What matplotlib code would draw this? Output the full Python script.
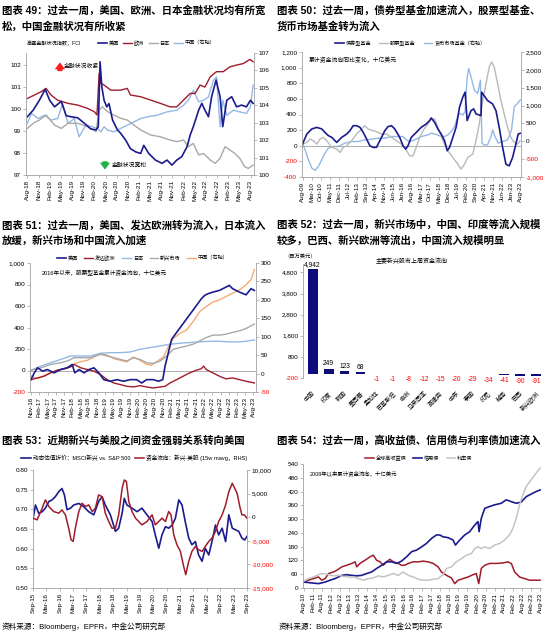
import matplotlib
matplotlib.use('Agg')
import matplotlib.pyplot as plt

plt.rcParams['font.family'] = ['Liberation Sans', 'Noto Sans CJK SC']
plt.rcParams['axes.unicode_minus'] = False

NAVY = '#1b1b8e'
RED = '#a01c2c'
GREY = '#a9a9a9'
LBLUE = '#94b8e6'
ORANGE = '#f6ab72'

# ---------------- 图表49: 高盛金融状况指数 ----------------
us49_t = [2018.58, 2018.71, 2018.85, 2018.98, 2019.08, 2019.19, 2019.34, 2019.45, 2019.56, 2019.71,
          2019.86, 2020.00, 2020.12, 2020.17, 2020.21, 2020.25, 2020.30, 2020.36, 2020.41, 2020.49,
          2020.60, 2020.67, 2020.78, 2020.89, 2021.01, 2021.12, 2021.19, 2021.30, 2021.45, 2021.60,
          2021.71, 2021.82, 2021.93, 2022.04, 2022.16, 2022.23, 2022.30, 2022.42, 2022.49, 2022.56,
          2022.64, 2022.71, 2022.81, 2022.90, 2022.96, 2023.05, 2023.16, 2023.27, 2023.38, 2023.49,
          2023.58, 2023.64]
us49_v = [99.65, 99.95, 100.4, 100.9, 100.4, 100.1, 100.35, 99.7, 99.65, 99.6,
          99.35, 99.1, 99.05, 99.2, 102.15, 101.0, 100.4, 100.1, 100.25, 99.5,
          99.05, 98.9, 98.6, 98.2, 98.05, 97.98, 98.35, 97.98, 97.68, 97.53,
          97.68, 97.45, 97.68, 97.83, 98.29, 98.82, 99.2, 99.95, 100.26, 99.95,
          99.65, 100.56, 101.32, 100.56, 99.2, 100.4, 100.56, 100.1, 100.18, 100.1,
          100.4, 100.26]
eu49_t = [2018.58, 2018.74, 2018.89, 2019.00, 2019.11, 2019.26, 2019.49, 2019.71, 2019.93, 2020.08,
          2020.14, 2020.19, 2020.23, 2020.30, 2020.45, 2020.67, 2020.82, 2020.89, 2021.12, 2021.34,
          2021.56, 2021.78, 2021.93, 2022.08, 2022.23, 2022.34, 2022.45, 2022.56, 2022.68, 2022.82,
          2022.97, 2023.12, 2023.27, 2023.42, 2023.57, 2023.64]
eu49_v = [100.48, 100.64, 100.79, 100.94, 100.64, 100.4, 100.26, 100.18, 100.03, 99.88,
          99.73, 101.62, 101.17, 101.09, 100.86, 100.86, 100.94, 100.64, 100.56, 100.41,
          100.26, 100.1, 100.1, 100.41, 100.71, 100.71, 101.09, 101.0, 101.47, 101.7,
          101.7, 101.92, 102.0, 102.07, 102.26, 102.15]
jp49_t = [2018.58, 2018.71, 2018.85, 2019.00, 2019.19, 2019.34, 2019.49, 2019.71, 2019.93, 2020.12,
          2020.19, 2020.26, 2020.38, 2020.52, 2020.67, 2020.82, 2020.97, 2021.12, 2021.34, 2021.56,
          2021.78, 2021.93, 2022.08, 2022.19, 2022.30, 2022.42, 2022.53, 2022.68, 2022.79, 2022.90,
          2023.01, 2023.12, 2023.23, 2023.34, 2023.45, 2023.53, 2023.64]
jp49_v = [99.12, 99.35, 99.5, 99.73, 99.27, 99.12, 99.35, 99.35, 99.2, 98.97,
          99.95, 100.1, 99.88, 99.73, 99.58, 99.5, 99.27, 99.05, 98.82, 98.74,
          98.59, 98.52, 98.59, 98.29, 98.44, 97.91, 97.98, 97.68, 97.53, 97.76,
          98.29, 98.14, 97.98, 97.76, 97.38, 97.3, 97.45]
cn49_t = [2018.58, 2018.67, 2018.82, 2018.97, 2019.11, 2019.26, 2019.37, 2019.49, 2019.63, 2019.74,
          2019.89, 2020.04, 2020.15, 2020.23, 2020.30, 2020.38, 2020.52, 2020.67, 2020.82, 2020.97,
          2021.12, 2021.27, 2021.49, 2021.71, 2021.93, 2022.08, 2022.19, 2022.30, 2022.42, 2022.53,
          2022.64, 2022.75, 2022.82, 2022.90, 2022.96, 2023.05, 2023.20, 2023.34, 2023.49, 2023.58,
          2023.64]
cn49_v = [102.96, 103.53, 103.24, 103.43, 103.15, 103.24, 104.1, 102.96, 103.24, 102.19,
          102.86, 102.77, 102.67, 102.48, 102.77, 102.57, 102.48, 102.67, 102.86, 103.05,
          103.24, 103.34, 103.43, 103.62, 103.72, 104.0, 104.29, 104.86, 104.2, 104.29,
          104.48, 105.44, 105.63, 102.77, 104.29, 103.43, 103.72, 103.62, 103.53, 103.91,
          105.15]

# ---------------- 图表50: 累计资金流向同比变化 ----------------
bond50_t = [2009.58, 2009.86, 2010.18, 2010.50, 2010.82, 2011.03, 2011.24, 2011.46, 2011.78, 2012.10,
            2012.42, 2012.63, 2012.84, 2013.06, 2013.27, 2013.48, 2013.70, 2013.91, 2014.12, 2014.33,
            2014.55, 2014.87, 2015.08, 2015.30, 2015.51, 2015.83, 2016.04, 2016.21, 2016.36, 2016.57,
            2016.79, 2017.00, 2017.21, 2017.53, 2017.75, 2017.85, 2018.07, 2018.28, 2018.49, 2018.71,
            2018.88, 2019.03, 2019.24, 2019.45, 2019.67, 2019.88, 2020.03, 2020.16, 2020.41, 2020.58,
            2020.73, 2021.05, 2021.09, 2021.47, 2021.79, 2022.01, 2022.22, 2022.44, 2022.65, 2022.86,
            2023.08, 2023.29, 2023.44, 2023.57]
bond50_v = [20, 150, 215, 235, 215, 170, 130, 107, 43, 107,
            150, 193, 257, 257, 236, 172, 86, 0, -21, -21,
            64, 193, 245, 257, 215, 107, 0, -43, 0, 107,
            150, 193, 236, 279, 322, 356, 300, 215, 150, 64,
            -64, -21, 107, 236, 493, 622, 686, 322, 450, 472,
            407, 386, 686, 579, 536, 450, 236, -21, -236, -257,
            -150, 21, 150, 159]
eq50_t = [2009.58, 2009.86, 2010.07, 2010.28, 2010.50, 2010.71, 2010.92, 2011.14, 2011.46, 2011.78,
          2011.99, 2012.20, 2012.42, 2012.74, 2013.06, 2013.38, 2013.59, 2013.80, 2014.12, 2014.44,
          2014.66, 2014.98, 2015.30, 2015.62, 2015.94, 2016.21, 2016.47, 2016.68, 2016.89, 2017.11,
          2017.32, 2017.64, 2017.85, 2018.07, 2018.28, 2018.60, 2018.92, 2019.24, 2019.56, 2019.77,
          2019.99, 2020.20, 2020.52, 2020.73, 2020.94, 2021.16, 2021.37, 2021.58, 2021.73, 2021.90,
          2022.12, 2022.33, 2022.54, 2022.76, 2022.97, 2023.19, 2023.40, 2023.57]
eq50_v = [20, 43, 86, 64, 21, 86, 107, 64, -21, -43,
          -86, -21, 0, 64, 150, 214, 257, 214, 193, 172,
          150, 150, 107, 64, 21, -43, -129, -129, -21, 107,
          193, 279, 343, 343, 236, 64, -64, -150, -236, -300,
          -236, -150, -107, 64, 279, 579, 793, 1007, 1072, 1007,
          793, 579, 407, 236, 107, 43, 21, 64]
mm50_t = [2009.58, 2009.75, 2009.96, 2010.18, 2010.39, 2010.60, 2010.82, 2011.03, 2011.24, 2011.56,
          2011.88, 2012.31, 2012.74, 2013.16, 2013.59, 2014.02, 2014.44, 2014.87, 2015.30, 2015.72,
          2016.04, 2016.25, 2016.47, 2016.79, 2017.21, 2017.64, 2017.85, 2018.07, 2018.39, 2018.71,
          2018.92, 2019.13, 2019.35, 2019.56, 2019.67, 2019.88, 2020.03, 2020.16, 2020.26, 2020.41,
          2020.62, 2020.84, 2021.01, 2021.12, 2021.22, 2021.47, 2021.69, 2021.80, 2021.95, 2022.16,
          2022.44, 2022.76, 2023.01, 2023.19, 2023.40, 2023.57]
mm50_v = [-53, -239, -517, -749, -814, -703, -517, -332, -192, -146,
          -146, -53, -7, -7, 40, 58, 86, 86, 133, 133,
          133, 40, -7, 40, 133, 179, 225, 207, 151, 133,
          179, 272, 411, 690, 783, 736, 829, 1804, 2036, 1804,
          1432, 1340, 1711, -46, -100, -100, 133, 318, 133, -53,
          -7, 40, 318, 968, 1061, 1154]

# ---------------- 图表51: 股票型基金累计资金流向 ----------------
us51_t = [2016.83, 2016.93, 2017.03, 2017.18, 2017.33, 2017.53, 2017.73, 2017.93, 2018.08, 2018.16,
          2018.29, 2018.44, 2018.59, 2018.74, 2018.89, 2019.04, 2019.24, 2019.44, 2019.64, 2019.84,
          2020.04, 2020.19, 2020.34, 2020.54, 2020.70, 2020.83, 2020.90, 2021.00, 2021.10, 2021.25,
          2021.40, 2021.55, 2021.70, 2021.85, 2022.00, 2022.10, 2022.20, 2022.35, 2022.55, 2022.75,
          2022.85, 2022.95, 2023.16, 2023.36, 2023.51, 2023.61]
us51_v = [-85, -22, 25, -6, 9, -22, 9, 25, 56, -22,
          9, -22, 9, 25, -22, -85, -100, -85, -100, -85,
          -85, -116, -85, -85, -100, -85, 41, 166, 291, 354,
          416, 479, 541, 604, 667, 698, 714, 729, 745, 776,
          792, 761, 729, 704, 761, 745]
eu51_t = [2016.83, 2017.03, 2017.23, 2017.43, 2017.63, 2017.83, 2018.03, 2018.14, 2018.34, 2018.54,
          2018.74, 2018.94, 2019.14, 2019.34, 2019.54, 2019.74, 2019.94, 2020.14, 2020.34, 2020.54,
          2020.75, 2020.90, 2021.05, 2021.25, 2021.45, 2021.65, 2021.85, 2022.00, 2022.07, 2022.15,
          2022.35, 2022.55, 2022.75, 2022.95, 2023.16, 2023.36, 2023.61]
eu51_v = [-85, -69, -53, -22, 3, 16, 34, 56, 25, 9,
          -6, -38, -85, -116, -131, -147, -153, -141, -153, -163,
          -153, -147, -116, -85, -53, -22, 3, 16, 41, 9,
          -22, -53, -78, -69, -85, -100, -116]
jp51_t = [2016.83, 2017.13, 2017.43, 2017.73, 2018.03, 2018.34, 2018.64, 2018.94, 2019.24, 2019.54,
          2019.84, 2020.14, 2020.44, 2020.75, 2021.05, 2021.35, 2021.65, 2021.95, 2022.25, 2022.55,
          2022.85, 2023.16, 2023.36, 2023.61]
jp51_v = [3, 41, 72, 103, 135, 135, 135, 160, 166, 166,
          172, 197, 213, 228, 244, 254, 260, 266, 272, 272,
          266, 266, 272, 285]
em51_t = [2016.83, 2017.13, 2017.43, 2017.73, 2017.93, 2018.14, 2018.34, 2018.64, 2018.94, 2019.14,
          2019.34, 2019.54, 2019.74, 2019.94, 2020.14, 2020.34, 2020.54, 2020.75, 2020.95, 2021.15,
          2021.35, 2021.55, 2021.75, 2021.95, 2022.15, 2022.35, 2022.55, 2022.75, 2022.95, 2023.16,
          2023.36, 2023.61]
em51_v = [3, 25, 56, 72, 88, 119, 119, 119, 150, 135,
          119, 103, 88, 119, 103, 72, 66, 88, 135, 197,
          213, 228, 244, 275, 307, 329, 329, 338, 354, 369,
          391, 432]
cn51_t = [2016.83, 2017.03, 2017.23, 2017.43, 2017.63, 2017.83, 2018.03, 2018.14, 2018.34, 2018.54,
          2018.74, 2018.94, 2019.14, 2019.34, 2019.54, 2019.74, 2019.94, 2020.14, 2020.34, 2020.49,
          2020.64, 2020.85, 2021.00, 2021.15, 2021.35, 2021.55, 2021.75, 2021.95, 2022.15, 2022.35,
          2022.55, 2022.75, 2022.95, 2023.16, 2023.36, 2023.51, 2023.61]
cn51_v = [-6, -14, -5, 3, 9, 12, 18, 27, 32, 36,
          45, 55, 50, 41, 36, 32, 45, 36, 25, 23,
          32, 45, 73, 95, 109, 118, 141, 168, 182, 194,
          200, 209, 218, 227, 241, 255, 282]

# ---------------- 图表52: 主要新兴股市上周资金流向 ----------------
mkt52 = ['中国', '印度', '韩国', '墨西哥', '孟加拉', '巴基斯坦', '非洲', '马来西亚',
         '菲律宾', '中东', '泰国', '印尼', '越南', '巴西', '新兴欧洲']
flow52 = [4942, 249, 123, 68, -1, -1, -8, -12, -15, -20, -29, -34, -41, -90, -91]

# ---------------- 图表53: 估值折价 vs 资金流向 ----------------
val53_t = [2015.67, 2015.76, 2015.88, 2016.01, 2016.13, 2016.26, 2016.38, 2016.50, 2016.63, 2016.75,
           2016.84, 2016.94, 2017.07, 2017.19, 2017.38, 2017.56, 2017.75, 2017.94, 2018.12, 2018.25,
           2018.37, 2018.56, 2018.75, 2018.87, 2019.00, 2019.08, 2019.18, 2019.37, 2019.56, 2019.74,
           2019.93, 2020.12, 2020.24, 2020.37, 2020.49, 2020.62, 2020.74, 2020.87, 2020.99, 2021.12,
           2021.24, 2021.36, 2021.49, 2021.61, 2021.74, 2021.86, 2021.99, 2022.11, 2022.24, 2022.36,
           2022.49, 2022.61, 2022.74, 2022.87, 2022.99, 2023.12, 2023.24, 2023.36, 2023.48, 2023.58,
           2023.67]
val53_v = [0.677, 0.711, 0.690, 0.694, 0.703, 0.720, 0.724, 0.732, 0.745, 0.753,
           0.737, 0.699, 0.703, 0.711, 0.715, 0.707, 0.694, 0.686, 0.720, 0.732,
           0.711, 0.686, 0.644, 0.652, 0.690, 0.728, 0.711, 0.703, 0.694, 0.703,
           0.686, 0.669, 0.635, 0.601, 0.635, 0.656, 0.652, 0.660, 0.677, 0.724,
           0.711, 0.669, 0.627, 0.610, 0.618, 0.584, 0.568, 0.601, 0.584, 0.618,
           0.660, 0.635, 0.652, 0.618, 0.686, 0.652, 0.648, 0.644, 0.627, 0.622,
           0.631]
flow53_t = [2015.67, 2015.82, 2016.01, 2016.13, 2016.26, 2016.44, 2016.63, 2016.75, 2016.88, 2017.00,
            2017.09, 2017.17, 2017.25, 2017.38, 2017.50, 2017.63, 2017.75, 2017.88, 2018.00, 2018.12,
            2018.25, 2018.37, 2018.50, 2018.62, 2018.75, 2018.87, 2019.00, 2019.08, 2019.16, 2019.25,
            2019.37, 2019.50, 2019.62, 2019.74, 2019.93, 2020.12, 2020.24, 2020.37, 2020.49, 2020.62,
            2020.74, 2020.83, 2020.93, 2021.05, 2021.18, 2021.30, 2021.38, 2021.49, 2021.61, 2021.74,
            2021.86, 2021.99, 2022.11, 2022.24, 2022.36, 2022.49, 2022.61, 2022.74, 2022.87, 2022.99,
            2023.12, 2023.18, 2023.30, 2023.40, 2023.48, 2023.57, 2023.67]
flow53_v = [-208, -560, 1904, 3664, 2256, 1200, 848, 1552, 496, -2320,
            -4784, -5136, -2320, 1200, 2960, 2256, 2608, 1200, 1904, 4720,
            4368, 848, -912, -2320, -2320, 496, 6128, 7888, 7536, 3312,
            1200, -208, -912, -1616, -912, 496, -1616, -912, -208, -912,
            1200, 496, -3728, -5840, -7248, -10416, -12176, -9360, -7248, -6192,
            -6896, -7248, -6192, -5136, -4432, -3024, -912, 496, 2608, 5424,
            7184, 6480, 5072, 2256, 496, 496, -208]

# ---------------- 图表54: 债券基金累计资金流向 ----------------
hy54_t = [2010.58, 2010.85, 2011.13, 2011.40, 2011.58, 2011.77, 2011.95, 2012.22, 2012.40, 2012.68,
          2012.95, 2013.23, 2013.41, 2013.50, 2013.68, 2013.96, 2014.23, 2014.41, 2014.59, 2014.78,
          2014.96, 2015.14, 2015.32, 2015.51, 2015.78, 2015.96, 2016.15, 2016.33, 2016.60, 2016.88,
          2017.15, 2017.42, 2017.70, 2017.97, 2018.15, 2018.43, 2018.70, 2018.88, 2019.07, 2019.34,
          2019.61, 2019.89, 2020.07, 2020.20, 2020.34, 2020.53, 2020.80, 2021.16, 2021.53, 2021.80,
          2021.99, 2022.17, 2022.44, 2022.71, 2022.99, 2023.26, 2023.57]
hy54_v = [26, 34, 41, 48, 34, 41, 63, 70, 77, 92,
          99, 107, 114, 92, 107, 121, 136, 143, 121, 114,
          99, 114, 125, 114, 107, 99, 99, 107, 114, 114,
          117, 114, 107, 92, 70, 55, 44, 19, 34, 41,
          48, 58, 63, 19, 85, 99, 107, 107, 109, 114,
          107, 70, 48, 41, 34, 34, 34]
cr54_t = [2010.58, 2011.04, 2011.40, 2011.77, 2012.04, 2012.31, 2012.68, 2012.95, 2013.23, 2013.50,
          2013.77, 2014.05, 2014.32, 2014.59, 2014.87, 2015.14, 2015.42, 2015.69, 2015.96, 2016.24,
          2016.51, 2016.78, 2017.06, 2017.33, 2017.61, 2017.88, 2018.06, 2018.24, 2018.52, 2018.79,
          2018.92, 2019.16, 2019.43, 2019.70, 2019.98, 2020.16, 2020.22, 2020.34, 2020.53, 2020.80,
          2021.07, 2021.44, 2021.71, 2021.99, 2022.26, 2022.53, 2022.81, 2023.08, 2023.35, 2023.57]
cr54_v = [26, 22, 19, 26, 34, 41, 55, 58, 55, 53,
          55, 63, 70, 85, 99, 114, 114, 107, 117, 136,
          158, 165, 179, 194, 216, 231, 231, 223, 219, 209,
          187, 209, 231, 245, 274, 289, 245, 303, 347, 355,
          362, 369, 384, 376, 369, 374, 398, 409, 420, 427]
gov54_t = [2010.58, 2010.85, 2011.13, 2011.40, 2011.67, 2011.95, 2012.22, 2012.50, 2012.77, 2013.04,
           2013.32, 2013.59, 2013.86, 2014.14, 2014.41, 2014.69, 2014.96, 2015.23, 2015.51, 2015.78,
           2016.05, 2016.33, 2016.60, 2016.88, 2017.15, 2017.42, 2017.70, 2017.97, 2018.24, 2018.43,
           2018.70, 2018.97, 2019.25, 2019.52, 2019.80, 2019.98, 2020.16, 2020.34, 2020.53, 2020.80,
           2021.07, 2021.35, 2021.62, 2021.89, 2022.08, 2022.26, 2022.44, 2022.62, 2022.81, 2023.08,
           2023.35, 2023.57]
gov54_v = [29, 41, 48, 58, 63, 58, 53, 55, 51, 48,
           48, 41, 34, 41, 44, 53, 48, 55, 63, 55,
           70, 55, 48, 38, 34, 34, 38, 41, 58, 85,
           92, 114, 128, 143, 150, 172, 179, 172, 179, 172,
           187, 194, 209, 231, 260, 303, 362, 406, 442, 471,
           500, 522]

MONTHS = ['Jan', 'Feb', 'Mar', 'Apr', 'May', 'Jun', 'Jul', 'Aug', 'Sep', 'Oct', 'Nov', 'Dec']

fig = plt.figure(figsize=(5.5, 6.35), dpi=100)


def fx(px):
    return px / 550


def fy(px):
    return 1 - px / 635


def axes_at(l, r, t, b):
    return fig.add_axes([fx(l), fy(b), fx(r) - fx(l), fy(t) - fy(b)])


def style(ax):
    ax.spines['top'].set_visible(False)
    for s in ax.spines.values():
        s.set_color('#a0a0a0')
        s.set_linewidth(0.6)
    ax.tick_params(labelsize=4.6, length=2, width=0.5, color='#a0a0a0', pad=1.5)


def twin(ax):
    ax2 = ax.twinx()
    style(ax2)
    ax2.spines['left'].set_visible(False)
    ax2.spines['bottom'].set_visible(False)
    ax.spines['right'].set_visible(False)
    return ax2


def date_ticks(ax, y0, m0, step, n):
    pos, lab = [], []
    for k in range(n):
        m = (m0 - 1) + k * step
        yr = y0 + m // 12
        mm = m % 12
        pos.append(yr + mm / 12)
        lab.append(f"{MONTHS[mm]}-{yr % 100:02d}")
    ax.set_xticks(pos)
    ax.set_xticklabels(lab, rotation=90, fontsize=4.5)


def yticks(ax, ticks, fmt):
    ax.set_yticks(ticks)
    ax.set_yticklabels([fmt(t) for t in ticks])
    for lab, t in zip(ax.get_yticklabels(), ticks):
        if t < 0:
            lab.set_color('red')


def title(x, y, s):
    fig.text(fx(x), fy(y), s, fontsize=7.5, weight='bold', va='center', ha='left')


def legend(ax, handles, labels, x, y, size=3.7, spacing=0.9):
    ax.legend(handles, labels, loc='center left', bbox_to_anchor=(fx(x), fy(y)),
              bbox_transform=fig.transFigure, ncol=len(labels), frameon=False,
              fontsize=size, handlelength=1.7, handletextpad=0.35, columnspacing=spacing,
              borderaxespad=0, borderpad=0)


def block_arrow(ax, x, y_from, y_to, color):
    ax.annotate('', xy=(x, y_to), xytext=(x, y_from),
                arrowprops=dict(arrowstyle='simple,head_length=0.5,head_width=0.75,tail_width=0.38',
                                fc=color, ec='none', mutation_scale=10))


comma = lambda t: f"{t:,}"

# ---------- 49 ----------
title(2, 10, '图表 49：过去一周，美国、欧洲、日本金融状况均有所宽')
title(2, 27, '松，中国金融状况有所收紧')
ax = axes_at(26, 254, 53, 175)
style(ax)
ax2 = twin(ax)
ax2.plot(cn49_t, cn49_v, color=LBLUE, lw=1.0)
l1, = ax.plot(jp49_t, jp49_v, color=GREY, lw=1.0)
l2, = ax.plot(eu49_t, eu49_v, color=RED, lw=1.0)
l3, = ax.plot(us49_t, us49_v, color=NAVY, lw=1.2)
ax.set_zorder(ax2.get_zorder() + 1)
ax.patch.set_visible(False)
ax.set_xlim(2018.55, 2023.66)
ax.set_ylim(97, 102.55)
ax2.set_ylim(100, 107)
yticks(ax, [97, 98, 99, 100, 101, 102], str)
yticks(ax2, [100, 101, 102, 103, 104, 105, 106, 107], str)
date_ticks(ax, 2018, 8, 3, 21)
fig.text(fx(27), fy(43), '高盛金融状况指数，FCI', fontsize=3.7, va='center')
legend(ax, [l3, l2, l1, plt.Line2D([], [], color=LBLUE, lw=1.0)],
       ['美国', '欧洲', '日本', '中国（右轴）'], 98, 43)
block_arrow(ax, 2019.31, 101.6, 102.25, '#ff1a1a')
ax.text(2019.4, 101.95, '金融状况收紧', fontsize=4.2, va='center')
block_arrow(ax, 2020.32, 97.75, 97.12, '#22b04a')
ax.text(2020.47, 97.47, '金融状况宽松', fontsize=4.2, va='center')

# ---------- 50 ----------
title(277, 10, '图表 50：过去一周，债券型基金加速流入，股票型基金、')
title(277, 27, '货币市场基金转为流入')
ax = axes_at(302, 521, 52, 177)
style(ax)
ax2 = twin(ax)
m1, = ax2.plot(mm50_t, mm50_v, color=LBLUE, lw=1.0)
ax.axhline(0, color='#a0a0a0', lw=0.6)
e1, = ax.plot(eq50_t, eq50_v, color='#b9b9b9', lw=1.0)
b1, = ax.plot(bond50_t, bond50_v, color=NAVY, lw=1.2)
ax.set_zorder(ax2.get_zorder() + 1)
ax.patch.set_visible(False)
ax.set_xlim(2009.55, 2023.62)
ax.set_ylim(-400, 1200)
ax2.set_ylim(-1000, 2500)
yticks(ax, list(range(-400, 1201, 200)), comma)
yticks(ax2, list(range(-1000, 2501, 500)), comma)
date_ticks(ax, 2009, 8, 7, 25)
ax.text(0.03, 0.96, '累计资金流向同比变化，十亿美元', transform=ax.transAxes, fontsize=4.2, va='top')
legend(ax, [b1, e1, m1], ['债券型基金', '股票型基金', '货币市场基金（右轴）'], 335, 43, spacing=1.6)

# ---------- 51 ----------
title(2, 225, '图表 51：过去一周，美国、发达欧洲转为流入，日本流入')
title(2, 241, '放缓，新兴市场和中国流入加速')
ax = axes_at(30, 256, 263, 392)
style(ax)
ax2 = twin(ax)
c1, = ax2.plot(cn51_t, cn51_v, color=ORANGE, lw=1.0)
ax.axhline(0, color='#a0a0a0', lw=0.6)
j1, = ax.plot(jp51_t, jp51_v, color=LBLUE, lw=1.0)
g1, = ax.plot(em51_t, em51_v, color=GREY, lw=1.0)
r1, = ax.plot(eu51_t, eu51_v, color=RED, lw=1.0)
u1, = ax.plot(us51_t, us51_v, color=NAVY, lw=1.2)
ax.set_zorder(ax2.get_zorder() + 1)
ax.patch.set_visible(False)
ax.set_xlim(2016.8, 2023.66)
ax.set_ylim(-200, 1000)
ax2.set_ylim(-50, 300)
yticks(ax, list(range(-200, 1001, 200)), comma)
yticks(ax2, list(range(-50, 301, 50)), comma)
date_ticks(ax, 2016, 11, 3, 28)
ax.text(0.05, 0.95, '2016年以来，股票型基金累计资金流向，十亿美元', transform=ax.transAxes,
        fontsize=4.1, va='top')
legend(ax, [u1, r1, j1, g1, c1], ['美国', '发达欧洲', '日本', '新兴市场', '中国（右轴）'], 57, 258,
       spacing=1.3)

# ---------- 52 ----------
title(277, 225, '图表 52：过去一周，新兴市场中，中国、印度等流入规模')
title(277, 241, '较多，巴西、新兴欧洲等流出，中国流入规模明显')
ax = axes_at(303, 545, 264, 378)
style(ax)
ax.spines['right'].set_visible(False)
ax.spines['bottom'].set_visible(False)
xs = list(range(len(mkt52)))
ax.bar(xs, flow52, width=0.62, color='#0c0c7a')
for x, v in zip(xs, flow52):
    if v >= 0:
        ax.annotate(f"{v:,}", (x, v), xytext=(0, 1), textcoords='offset points',
                    ha='center', va='bottom', fontsize=4.8)
    else:
        ax.annotate(f"{v:,}", (x, v), xytext=(0, -1.5), textcoords='offset points',
                    ha='center', va='top', fontsize=4.8, color='red')
ax.set_xlim(-0.6, len(mkt52) - 0.45)
ax.set_ylim(-200, 5200)
yticks(ax, [-200, 800, 1800, 2800, 3800, 4800], comma)
ax.set_xticks(xs)
ax.set_xticklabels(mkt52, rotation=45, ha='right', rotation_mode='anchor', fontsize=4.3)
ax.tick_params(axis='x', length=0, pad=9)
fig.text(fx(284), fy(257), '（百万美元）', fontsize=3.8, va='center')
fig.text(fx(412), fy(261), '主要新兴股市上周资金流向', fontsize=4.3, va='center', ha='center')

# ---------- 53 ----------
title(2, 440, '图表 53：近期新兴与美股之间资金强弱关系转向美国')
ax = axes_at(33, 247, 470, 588)
style(ax)
ax2 = twin(ax)
n1, = ax.plot(val53_t, val53_v, color=NAVY, lw=1.2)
f1, = ax2.plot(flow53_t, flow53_v, color=RED, lw=1.1)
ax.set_xlim(2015.67, 2023.67)
ax.set_ylim(0.5, 0.8)
ax2.set_ylim(-15000, 10000)
yticks(ax, [0.5, 0.55, 0.6, 0.65, 0.7, 0.75, 0.8], lambda t: f"{t:.2f}")
yticks(ax2, list(range(-15000, 10001, 5000)), comma)
date_ticks(ax, 2015, 9, 6, 17)
legend(ax, [n1, f1], ['动态估值折价：MSCI新兴 vs. S&P 500', '资金流向：新兴-美股 (15w mavg，RHS)'],
       21, 458, size=4.1, spacing=0.8)

# ---------- 54 ----------
title(277, 440, '图表 54：过去一周，高收益债、信用债与利率债加速流入')
ax = axes_at(303, 541, 464, 588)
style(ax)
ax.spines['right'].set_visible(False)
h1, = ax.plot(hy54_t, hy54_v, color=RED, lw=1.1)
k1, = ax.plot(cr54_t, cr54_v, color=NAVY, lw=1.2)
v1, = ax.plot(gov54_t, gov54_v, color='#c4c4c4', lw=1.1)
ax.set_xlim(2010.55, 2023.62)
ax.set_ylim(0, 540)
yticks(ax, list(range(0, 541, 60)), str)
date_ticks(ax, 2010, 8, 6, 27)
ax.text(0.03, 0.95, '2008年以来累计资金流向，十亿美元', transform=ax.transAxes, fontsize=3.9, va='top')
legend(ax, [h1, k1, v1], ['全球高收益债', '信用债', '利率债'], 365, 458, spacing=1.4)

fig.text(fx(2), fy(627), '资料来源：Bloomberg，EPFR，中金公司研究部', fontsize=5.5, va='center')
fig.text(fx(279), fy(627), '资料来源：Bloomberg，EPFR，中金公司研究部', fontsize=5.5, va='center')

fig.savefig('out.png', dpi=100)
